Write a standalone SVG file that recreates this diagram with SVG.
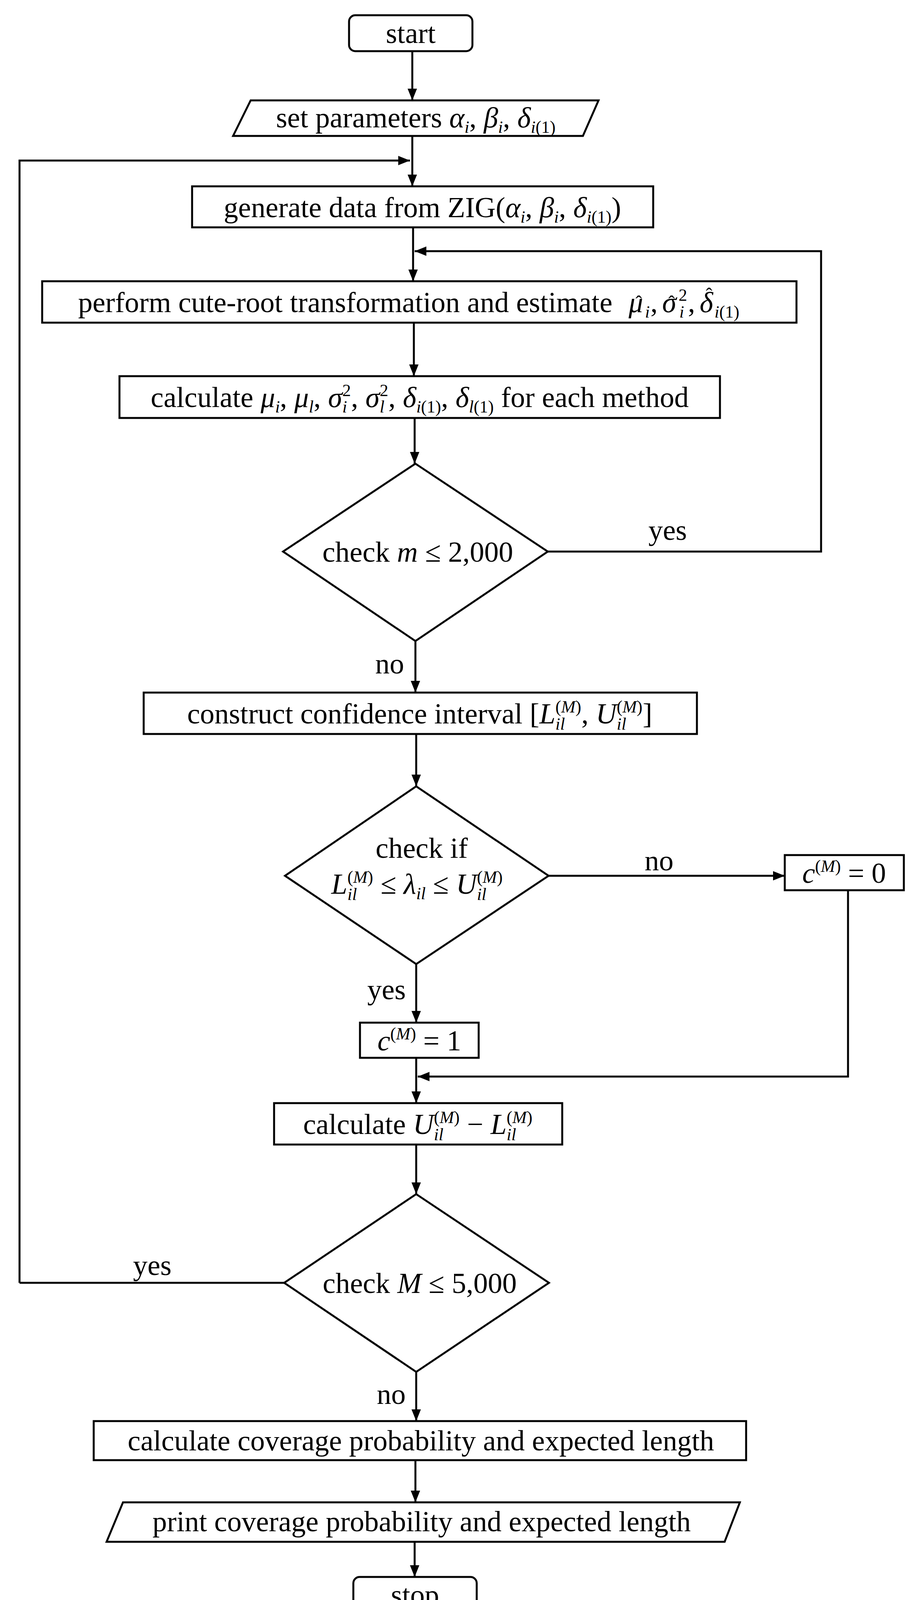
<svg xmlns="http://www.w3.org/2000/svg" width="2341" height="4168" viewBox="0 0 2341 4168">
<defs>
<marker id="ah" viewBox="0 0 10 10" refX="10" refY="5" markerWidth="30" markerHeight="30" markerUnits="userSpaceOnUse" orient="auto">
<path d="M0,1 L10,5 L0,9 z" fill="#000"/>
</marker>
<style>
.s{fill:#fff;stroke:#000;stroke-width:5}
.c{fill:none;stroke:#000;stroke-width:5;marker-end:url(#ah)}
.l{fill:none;stroke:#000;stroke-width:5}
text{font-family:"Liberation Serif","Times New Roman",serif;font-size:74px;fill:#000}
.t{text-anchor:middle}
.m{font-style:italic}
.sb{font-size:44px}
.h{font-size:50px;text-anchor:middle}
</style>
</defs>
<rect width="2341" height="4168" fill="#fff"/>
<g id="connectors">
<path class="c" d="M1056,131 V257"/>
<path class="c" d="M1056,348 V477"/>
<path class="c" d="M50,3284 V411 H1050"/>
<path class="c" d="M1058,582 V720"/>
<path class="c" d="M1403,1412 H2103 V643 H1062"/>
<path class="c" d="M1060,826 V963"/>
<path class="c" d="M1062,1070 V1187"/>
<path class="c" d="M1064,1641 V1773"/>
<path class="c" d="M1066,1879 V2013"/>
<path class="c" d="M1405,2242 H2010"/>
<path class="c" d="M1066,2468 V2618"/>
<path class="c" d="M2172,2279 V2756 H1070"/>
<path class="c" d="M1066,2708 V2824"/>
<path class="c" d="M1066,2930 V3057"/>
<path class="l" d="M728,3284 H50"/>
<path class="c" d="M1066,3512 V3638"/>
<path class="c" d="M1064,3738 V3846"/>
<path class="c" d="M1062,3947 V4037"/>
<text x="1710" y="1382" class="t">yes</text>
<text x="998" y="1724" class="t">no</text>
<text x="1688" y="2228" class="t">no</text>
<text x="990" y="2558" class="t">yes</text>
<text x="390" y="3264" class="t">yes</text>
<text x="1002" y="3594" class="t">no</text>
</g>
<g id="start"><rect class="s" x="894" y="39" width="316" height="92" rx="16"/><text x="1052" y="110" class="t">start</text></g>
<g id="setparams"><polygon class="s" points="642,257 1533,257 1493,348 597,348"/><text x="1065" y="326" class="t">set parameters <tspan class="m">α</tspan><tspan class="m sb" dy="14">i</tspan><tspan dy="-14">, </tspan><tspan class="m">β</tspan><tspan class="m sb" dy="14">i</tspan><tspan dy="-14">, </tspan><tspan class="m">δ</tspan><tspan class="sb" dy="14"><tspan class="m">i</tspan>(1)</tspan></text></g>
<g id="generate"><rect class="s" x="492" y="477" width="1181" height="105"/><text x="1082" y="556" class="t">generate data from ZIG(<tspan class="m">α</tspan><tspan class="m sb" dy="14">i</tspan><tspan dy="-14">, </tspan><tspan class="m">β</tspan><tspan class="m sb" dy="14">i</tspan><tspan dy="-14">, </tspan><tspan class="m">δ</tspan><tspan class="sb" dy="14"><tspan class="m">i</tspan>(1)</tspan><tspan dy="-14">)</tspan></text></g>
<g id="perform"><rect class="s" x="108" y="720" width="1932" height="106"/>
<text x="200" y="799">perform cute-root transformation and estimate</text>
<text x="1610" y="799" class="m">μ</text><text x="1636" y="792" class="h">ˆ</text><text x="1652" y="813" class="m sb">i</text><text x="1666" y="799">,</text>
<text x="1696" y="799" class="m">σ</text><text x="1720" y="792" class="h">ˆ</text><text x="1738" y="770" class="sb">2</text><text x="1740" y="813" class="m sb">i</text><text x="1762" y="799">,</text>
<text x="1792" y="799" class="m">δ</text><text x="1816" y="772" class="h">ˆ</text><text x="1830" y="813" class="sb"><tspan class="m">i</tspan>(1)</text></g>
<g id="calcparams"><rect class="s" x="306" y="963" width="1538" height="107"/><text x="1075" y="1042" class="t">calculate <tspan class="m">μ</tspan><tspan class="m sb" dy="14">i</tspan><tspan dy="-14">, </tspan><tspan class="m">μ</tspan><tspan class="m sb" dy="14">l</tspan><tspan dy="-14">, </tspan><tspan class="m">σ</tspan><tspan class="sb" dy="-28">2</tspan><tspan class="m sb" dx="-22" dy="42">i</tspan><tspan dx="10" dy="-14">, </tspan><tspan class="m">σ</tspan><tspan class="sb" dy="-28">2</tspan><tspan class="m sb" dx="-22" dy="42">l</tspan><tspan dx="10" dy="-14">, </tspan><tspan class="m">δ</tspan><tspan class="sb" dy="14"><tspan class="m">i</tspan>(1)</tspan><tspan dy="-14">, </tspan><tspan class="m">δ</tspan><tspan class="sb" dy="14"><tspan class="m">l</tspan>(1)</tspan><tspan dy="-14"> for each method</tspan></text></g>
<g id="check1"><polygon class="s" points="1064,1187 1403,1412 1064,1641 725,1412"/><text x="1070" y="1438" class="t">check <tspan class="m">m</tspan> ≤ 2,000</text></g>
<g id="construct"><rect class="s" x="368" y="1773" width="1417" height="106"/><text x="1075" y="1852" class="t">construct confidence interval [<tspan class="m">L</tspan><tspan class="sb" dy="-28">(<tspan class="m">M</tspan>)</tspan><tspan class="m sb" dx="-66" dy="44">il</tspan><tspan dx="42" dy="-16">, </tspan><tspan class="m">U</tspan><tspan class="sb" dy="-28">(<tspan class="m">M</tspan>)</tspan><tspan class="m sb" dx="-66" dy="44">il</tspan><tspan dx="42" dy="-16">]</tspan></text></g>
<g id="check2"><polygon class="s" points="1066,2013 1405,2242 1066,2468 730,2242"/><text x="1080" y="2196" class="t">check if</text><text x="1068" y="2288" class="t"><tspan class="m">L</tspan><tspan class="sb" dy="-28">(<tspan class="m">M</tspan>)</tspan><tspan class="m sb" dx="-66" dy="44">il</tspan><tspan dx="42" dy="-16"> ≤ </tspan><tspan class="m">λ</tspan><tspan class="m sb" dy="14">il</tspan><tspan dy="-14"> ≤ </tspan><tspan class="m">U</tspan><tspan class="sb" dy="-28">(<tspan class="m">M</tspan>)</tspan><tspan class="m sb" dx="-66" dy="44">il</tspan><tspan dx="42" dy="-16"> </tspan></text></g>
<g id="c0"><rect class="s" x="2010" y="2189" width="305" height="90"/><text x="2162" y="2260" class="t"><tspan class="m">c</tspan><tspan class="sb" dy="-28">(<tspan class="m">M</tspan>)</tspan><tspan dy="28"> = 0</tspan></text></g>
<g id="c1"><rect class="s" x="922" y="2618" width="304" height="90"/><text x="1074" y="2689" class="t"><tspan class="m">c</tspan><tspan class="sb" dy="-28">(<tspan class="m">M</tspan>)</tspan><tspan dy="28"> = 1</tspan></text></g>
<g id="calcdiff"><rect class="s" x="702" y="2824" width="738" height="106"/><text x="1070" y="2903" class="t">calculate <tspan class="m">U</tspan><tspan class="sb" dy="-28">(<tspan class="m">M</tspan>)</tspan><tspan class="m sb" dx="-66" dy="44">il</tspan><tspan dx="42" dy="-16"> − </tspan><tspan class="m">L</tspan><tspan class="sb" dy="-28">(<tspan class="m">M</tspan>)</tspan><tspan class="m sb" dx="-66" dy="44">il</tspan><tspan dx="42" dy="-16"> </tspan></text></g>
<g id="check3"><polygon class="s" points="1066,3057 1406,3284 1066,3512 728,3284"/><text x="1075" y="3310" class="t">check <tspan class="m">M</tspan> ≤ 5,000</text></g>
<g id="calccov"><rect class="s" x="240" y="3638" width="1671" height="100"/><text x="1078" y="3713" class="t">calculate coverage probability and expected length</text></g>
<g id="print"><polygon class="s" points="315,3846 1895,3846 1856,3947 273,3947"/><text x="1080" y="3920" class="t">print coverage probability and expected length</text></g>
<g id="stop"><rect class="s" x="905" y="4037" width="316" height="94" rx="16"/><text x="1063" y="4108" class="t">stop</text></g>
</svg>
